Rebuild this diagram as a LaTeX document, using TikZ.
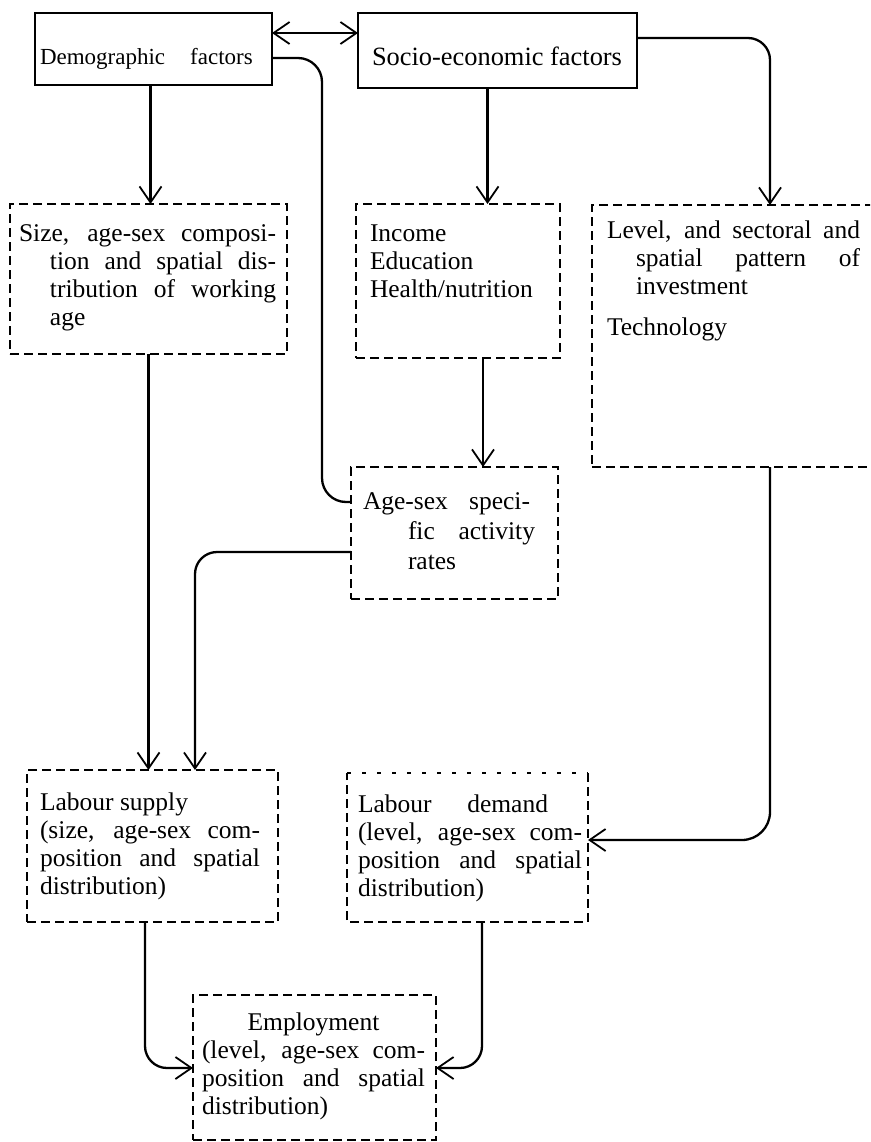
\documentclass[tikz,border=0pt]{standalone}
\usepackage{fontspec}
\setmainfont{Liberation Serif}
\usetikzlibrary{arrows.meta}

\begin{document}
\begin{tikzpicture}[x=1pt,y=-1pt,
  solidbox/.style={draw, line width=1.8pt, inner sep=0pt, outer sep=0pt, anchor=north west},
  dashbox/.style={draw, line width=2pt, dash pattern=on 9pt off 5pt, inner sep=0pt, outer sep=0pt, anchor=north west},
  txt/.style={anchor=base west, inner sep=0pt, outer sep=0pt},
  boxtext/.style={txt, font=\fontsize{25.5}{28}\selectfont},
  link/.style={line width=2.3pt},
  barb/.tip={Straight Barb[length=16pt,width=22pt,line width=1.8pt]},
  arr/.style={link, -barb},
]
\useasboundingbox (0,0) rectangle (870,1142);
\fill[white] (0,0) rectangle (870,1142);
\clip (0,0) rectangle (870,1142);

% ---- boxes ----
\node[solidbox, minimum width=237pt, minimum height=72pt] (demo) at (35,13) {};
\node[solidbox, minimum width=279pt, minimum height=75pt] (socio) at (358,13) {};
\node[dashbox, minimum width=277pt, minimum height=150pt] (size) at (10,204) {};
\node[dashbox, minimum width=204pt, minimum height=154pt] (income) at (356,204) {};
\node[dashbox, minimum width=290pt, minimum height=262pt] (level) at (592,205) {};
\node[dashbox, minimum width=207pt, minimum height=132pt] (agesex) at (351,467) {};
\node[dashbox, minimum width=251pt, minimum height=152pt] (supply) at (27,770) {};
\node[inner sep=0pt, outer sep=0pt, anchor=north west, minimum width=241pt, minimum height=149pt] (demand) at (347,773) {};
\node[dashbox, minimum width=243pt, minimum height=145pt] (employ) at (193,995) {};

% labour demand frame: fine dashes on top, regular dashes elsewhere
\draw[line width=2pt, dash pattern=on 4pt off 11pt] (demand.north west) -- (demand.north east);
\draw[line width=2pt, dash pattern=on 9pt off 5pt] (demand.north east) -- (demand.south east) -- (demand.south west) -- (demand.north west);

% ---- texts ----
\node[txt, font=\fontsize{23}{27}\selectfont] (tdemo) at (40,65) {Demographic\hspace{25pt}factors};
\node[txt, font=\fontsize{26.4}{30}\selectfont] (tsocio) at (372,66) {Socio-economic factors};

\node[boxtext] (tsize) at (19,241) {\parbox[t]{270pt}{%
  \makebox[257pt][s]{Size, age-sex composi-}\\
  \hspace*{31pt}\makebox[226pt][s]{tion and spatial dis-}\\
  \hspace*{31pt}\makebox[226pt][s]{tribution of working}\\
  \hspace*{31pt}age}};

\node[boxtext] (tincome) at (370,241) {\parbox[t]{190pt}{Income\\Education\\Health/nutrition}};

\node[boxtext] (tlevel) at (607,238) {\parbox[t]{260pt}{%
  \makebox[253pt][s]{Level, and sectoral and}\\
  \hspace*{29pt}\makebox[224pt][s]{spatial pattern of}\\
  \hspace*{29pt}investment\\[13pt]
  Technology}};

\node[txt, font=\fontsize{25.5}{30}\selectfont] (tagesex) at (363,509) {\parbox[t]{190pt}{%
  \makebox[167pt][s]{Age-sex speci-}\\
  \hspace*{45pt}\makebox[127pt][s]{fic activity}\\
  \hspace*{45pt}rates}};

\node[boxtext] (tsupply) at (40,810) {\parbox[t]{240pt}{%
  Labour supply\\
  \makebox[220pt][s]{(size, age-sex com-}\\
  \makebox[220pt][s]{position and spatial}\\
  distribution)}};

\node[boxtext] (tdemand) at (358,812) {\parbox[t]{240pt}{%
  \makebox[190pt][s]{Labour demand}\\
  \makebox[224pt][s]{(level, age-sex com-}\\
  \makebox[224pt][s]{position and spatial}\\
  distribution)}};

\node[boxtext] (temploy) at (202,1030) {\parbox[t]{230pt}{%
  \makebox[223pt]{Employment}\\
  \makebox[223pt][s]{(level, age-sex com-}\\
  \makebox[223pt][s]{position and spatial}\\
  distribution)}};

% ---- connectors ----
\draw[link, barb-barb] ([yshift=-20pt]demo.north east) -- ([yshift=-20pt]socio.north west);

\coordinate (c1) at ([xshift=-3pt]demo.south);
\draw[arr] (c1) -- (c1 |- size.north);

\coordinate (c2) at ([xshift=-10pt]socio.south);
\draw[arr] (c2) -- (c2 |- income.north);

\coordinate (c3) at ([yshift=-25pt]socio.north east);
\coordinate (c4) at ([xshift=178pt]level.north west);
\draw[arr, rounded corners=22pt] (c3) -| (c4);

\coordinate (c5) at ([yshift=-45pt]demo.north east);
\coordinate (c6) at ([yshift=-35pt]agesex.north west);
\coordinate (c7) at (322,0);
\draw[link, rounded corners=24pt] (c5) -| (c7 |- c6) -- (c6);

\coordinate (c8) at ([xshift=25pt]income.south);
\draw[arr] (c8) -- (c8 |- agesex.north);

\draw[arr] (size.south) -- (size.south |- supply.north);

\coordinate (c9) at ([yshift=-85pt]agesex.north west);
\coordinate (c10) at ([xshift=168pt]supply.north west);
\draw[arr, rounded corners=22pt] (c9) -| (c10);

\coordinate (c11) at ([xshift=178pt]level.south west);
\coordinate (c12) at ([yshift=-67pt]demand.north east);
\draw[arr, rounded corners=28pt] (c11) |- (c12);

\coordinate (c13) at ([xshift=118pt]supply.south west);
\coordinate (c14) at ([yshift=-73pt]employ.north west);
\draw[arr, rounded corners=22pt] (c13) |- (c14);

\coordinate (c15) at ([xshift=135pt]demand.south west);
\coordinate (c16) at ([yshift=-73pt]employ.north east);
\draw[arr, rounded corners=22pt] (c15) |- (c16);
\end{tikzpicture}
\end{document}
